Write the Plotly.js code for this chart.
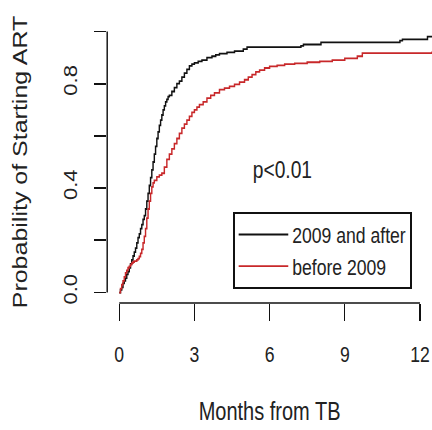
<!DOCTYPE html>
<html>
<head>
<meta charset="utf-8">
<script src="https://cdn.plot.ly/plotly-3.0.1.min.js"></script>
<style>
  html, body { margin: 0; padding: 0; background: #ffffff; overflow: hidden; }
  /* the figure is laid out wide and squeezed horizontally, giving the narrow lettering */
  #chart { width: 540px; height: 430px; transform: scaleX(0.8); transform-origin: 0 0; }
</style>
</head>
<body>
<div id="chart"></div>
<script>
// Cumulative probability of starting ART after TB diagnosis (Kaplan-Meier style steps)
var monthsAfter = [0, 0.05, 0.1, 0.15, 0.2, 0.25, 0.3, 0.35, 0.4, 0.45, 0.5, 0.55, 0.6, 0.65, 0.7, 0.75, 0.8, 0.85, 0.9, 0.95,
  1.0, 1.05, 1.1, 1.15, 1.2, 1.25, 1.3, 1.35, 1.4, 1.45, 1.5, 1.55, 1.6, 1.65, 1.7, 1.75, 1.8, 1.85, 1.9, 1.95,
  2.0, 2.1, 2.2, 2.3, 2.4, 2.5, 2.6, 2.7, 2.8, 2.9, 3.0, 3.15, 3.3, 3.5, 3.7, 3.85, 4.0, 4.3, 4.6, 4.95, 5.1,
  7.25, 7.35, 8.05, 11.2, 11.3, 12.3, 12.48];
var probAfter = [0, 0.01, 0.02, 0.035, 0.045, 0.055, 0.07, 0.08, 0.095, 0.11, 0.125, 0.14, 0.155, 0.17, 0.19, 0.21, 0.225, 0.245, 0.26, 0.28,
  0.295, 0.32, 0.35, 0.38, 0.41, 0.44, 0.47, 0.5, 0.53, 0.56, 0.59, 0.615, 0.64, 0.66, 0.68, 0.7, 0.715, 0.73, 0.74, 0.75,
  0.755, 0.77, 0.785, 0.8, 0.81, 0.825, 0.84, 0.855, 0.868, 0.875, 0.88, 0.885, 0.89, 0.9, 0.905, 0.91, 0.915, 0.92, 0.925, 0.932, 0.94,
  0.945, 0.95, 0.958, 0.965, 0.97, 0.98, 0.98];

var monthsBefore = [0, 0.05, 0.1, 0.15, 0.2, 0.25, 0.3, 0.35, 0.4, 0.45, 0.5, 0.55, 0.6, 0.7, 0.75, 0.8, 0.85, 0.9, 0.95,
  1.0, 1.05, 1.1, 1.15, 1.2, 1.25, 1.3, 1.35, 1.4, 1.5, 1.6, 1.7, 1.8, 1.9, 2.0, 2.1, 2.2, 2.3, 2.4, 2.5, 2.6, 2.7, 2.8, 2.9,
  3.0, 3.1, 3.2, 3.35, 3.5, 3.65, 3.8, 4.0, 4.2, 4.4, 4.6, 4.8, 5.0, 5.15, 5.3, 5.45, 5.6, 5.8, 6.0, 6.3, 6.6, 7.0, 7.5,
  8.0, 8.5, 9.0, 9.5, 9.7, 12.48];
var probBefore = [0, 0.015, 0.03, 0.045, 0.06, 0.075, 0.085, 0.095, 0.1, 0.107, 0.113, 0.117, 0.12, 0.125, 0.13, 0.138, 0.15, 0.165, 0.19,
  0.215, 0.245, 0.285, 0.32, 0.35, 0.38, 0.405, 0.42, 0.43, 0.443, 0.45, 0.457, 0.48, 0.51, 0.53, 0.55, 0.57, 0.59, 0.61, 0.63, 0.645, 0.66, 0.675, 0.69,
  0.7, 0.71, 0.72, 0.73, 0.745, 0.755, 0.765, 0.777, 0.783, 0.79, 0.797, 0.806, 0.815, 0.825, 0.835, 0.845, 0.852, 0.86, 0.866, 0.87, 0.875, 0.878, 0.882,
  0.885, 0.89, 0.897, 0.905, 0.917, 0.923];

var seriesNames = ['2009 and after', 'before 2009'];
var xTickVals = [0, 3, 6, 9, 12];
var xTickText = ['0', '3', '6', '9', '12'];
var yTickVals = [0, 0.2, 0.4, 0.6, 0.8, 1.0];
var yTickText = ['0.0', '', '0.4', '', '0.8', ''];
var pLabel = 'p<0.01';

var face = '"Liberation Sans", Arial, Helvetica, sans-serif';
var ink = '#222222';

var traces = [
  {
    x: monthsAfter, y: probAfter, name: seriesNames[0],
    type: 'scatter', mode: 'lines',
    line: { shape: 'hv', color: '#111111', width: 1.8 }
  },
  {
    x: monthsBefore, y: probBefore, name: seriesNames[1],
    type: 'scatter', mode: 'lines',
    line: { shape: 'hv', color: '#c8282a', width: 1.8 }
  }
];

var layout = {
  width: 540, height: 430,
  margin: { l: 134, r: 0, t: 21, b: 127 },
  paper_bgcolor: '#ffffff', plot_bgcolor: '#ffffff',
  font: { family: face, color: ink, size: 22 },
  showlegend: true,
  xaxis: {
    range: [-0.48, 12.48],
    showgrid: false, zeroline: false, showline: false,
    tickmode: 'array', tickvals: xTickVals, ticktext: xTickText,
    ticks: 'outside', ticklen: 17, tickwidth: 1.6, tickcolor: '#111111',
    ticklabelstandoff: 15, ticklabeloverflow: 'allow',
    tickfont: { family: face, size: 22, color: ink },
    title: { text: 'Months from TB', font: { family: face, size: 25, color: ink }, standoff: 36 },
    fixedrange: true
  },
  yaxis: {
    range: [-0.04, 1.04],
    showgrid: false, zeroline: false, showline: false,
    tickmode: 'array', tickvals: yTickVals, ticktext: yTickText,
    ticks: 'outside', ticklen: 15, tickwidth: 1.8, tickcolor: '#111111',
    tickangle: -90, ticklabelstandoff: 13,
    tickfont: { family: face, size: 22, color: ink },
    title: { text: 'Probability of Starting ART', font: { family: face, size: 25, color: ink }, standoff: 34 },
    fixedrange: true
  },
  legend: {
    x: 0.388, y: 0.323, xanchor: 'left', yanchor: 'top',
    bgcolor: '#ffffff', bordercolor: '#111111', borderwidth: 1.8,
    itemwidth: 62, entrywidth: 165,
    font: { family: face, size: 22, color: ink },
    tracegroupgap: 0
  },
  shapes: [
    // axis lines spanning the first to last tick, base-graphics style
    { type: 'line', xref: 'x', yref: 'paper', x0: xTickVals[0], x1: xTickVals[xTickVals.length - 1], y0: 0, y1: 0,
      line: { color: '#111111', width: 1.6 } },
    { type: 'line', xref: 'paper', yref: 'y', x0: 0, x1: 0, y0: yTickVals[0], y1: yTickVals[yTickVals.length - 1],
      line: { color: '#111111', width: 1.8 } }
  ],
  annotations: [
    { x: 6.5, y: 0.47, xref: 'x', yref: 'y', text: pLabel, showarrow: false,
      font: { family: face, size: 24, color: ink } }
  ]
};

Plotly.newPlot('chart', traces, layout, { displayModeBar: false, staticPlot: true });
</script>
</body>
</html>
